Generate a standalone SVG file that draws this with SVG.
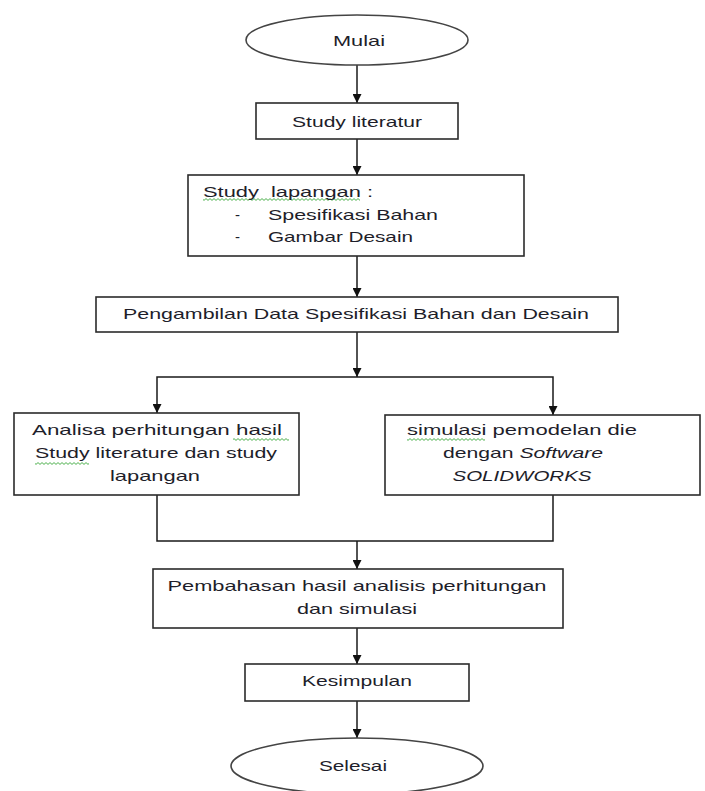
<svg xmlns="http://www.w3.org/2000/svg" width="705" height="791" viewBox="0 0 705 791">
<style>
  .box { fill: #ffffff; stroke: #2b2b2b; stroke-width: 1.6; }
  .term { fill: #ffffff; stroke: #444444; stroke-width: 1.6; }
  .t { font-family: "Liberation Sans", Arial, sans-serif; font-size: 15px; fill: #1e1e2a; }
  .c { text-anchor: middle; }
  .it { font-style: italic; }
  .line { fill: none; stroke: #1a1a1a; stroke-width: 1.5; }
  .wave { fill: url(#wave); }
</style>
<defs>
  <marker id="arrow" viewBox="0 0 10 10" refX="10" refY="5" markerWidth="9" markerHeight="9" markerUnits="userSpaceOnUse" orient="auto">
    <path d="M0,0 L10,5 L0,10 z" fill="#111111"/>
  </marker>
  <pattern id="wave" width="4" height="3" patternUnits="userSpaceOnUse">
    <path d="M0,2.4 L2,0.6 L4,2.4" fill="none" stroke="#3aa83a" stroke-width="0.9"/>
  </pattern>
</defs>

<g id="connectors">
  <path class="line" d="M357,65 V103" marker-end="url(#arrow)"/>
  <path class="line" d="M357,139 V175" marker-end="url(#arrow)"/>
  <path class="line" d="M357,256 V297" marker-end="url(#arrow)"/>
  <path class="line" d="M357,332 V377" marker-end="url(#arrow)"/>
  <path class="line" d="M357,377 H157 V413" marker-end="url(#arrow)"/>
  <path class="line" d="M357,377 H553 V415" marker-end="url(#arrow)"/>
  <path class="line" d="M157,495 V541 H553 V495"/>
  <path class="line" d="M357,541 V569" marker-end="url(#arrow)"/>
  <path class="line" d="M357,628 V664" marker-end="url(#arrow)"/>
  <path class="line" d="M357,701 V738" marker-end="url(#arrow)"/>
</g>

<g id="mulai">
  <ellipse class="term" cx="357" cy="40" rx="111" ry="25"/>
  <text class="t c" x="359" y="46" textLength="52" lengthAdjust="spacingAndGlyphs">Mulai</text>
</g>

<g id="study-literatur">
  <rect class="box" x="256" y="103" width="202" height="36"/>
  <text class="t c" x="357" y="127" textLength="130" lengthAdjust="spacingAndGlyphs">Study literatur</text>
</g>

<g id="study-lapangan">
  <rect class="box" x="188" y="175" width="336" height="81"/>
  <rect class="wave" x="203" y="198" width="157" height="3"/>
  <text class="t" x="203" y="197" textLength="170" lengthAdjust="spacingAndGlyphs">Study&#160; lapangan :</text>
  <text class="t" x="235" y="220">-</text>
  <text class="t" x="268" y="220" textLength="170" lengthAdjust="spacingAndGlyphs">Spesifikasi Bahan</text>
  <text class="t" x="235" y="242">-</text>
  <text class="t" x="268" y="242" textLength="145" lengthAdjust="spacingAndGlyphs">Gambar Desain</text>
</g>

<g id="pengambilan">
  <rect class="box" x="96" y="297" width="522" height="35"/>
  <text class="t c" x="356" y="319" textLength="466" lengthAdjust="spacingAndGlyphs">Pengambilan Data Spesifikasi Bahan dan Desain</text>
</g>

<g id="analisa">
  <rect class="box" x="14" y="413" width="285" height="82"/>
  <rect class="wave" x="233" y="438" width="56" height="3"/>
  <rect class="wave" x="35" y="462" width="54" height="3"/>
  <text class="t c" x="157" y="435" textLength="250" lengthAdjust="spacingAndGlyphs">Analisa perhitungan hasil</text>
  <text class="t c" x="156" y="458" textLength="242" lengthAdjust="spacingAndGlyphs">Study literature dan study</text>
  <text class="t c" x="155" y="481" textLength="90" lengthAdjust="spacingAndGlyphs">lapangan</text>
</g>

<g id="simulasi">
  <rect class="box" x="385" y="415" width="315" height="80"/>
  <rect class="wave" x="407" y="438" width="78" height="3"/>
  <text class="t c" x="522" y="435" textLength="230" lengthAdjust="spacingAndGlyphs">simulasi pemodelan die</text>
  <text class="t c" x="523" y="458" textLength="160" lengthAdjust="spacingAndGlyphs">dengan <tspan class="it">Software</tspan></text>
  <text class="t c it" x="522" y="481" textLength="139" lengthAdjust="spacingAndGlyphs">SOLIDWORKS</text>
</g>

<g id="pembahasan">
  <rect class="box" x="153" y="569" width="410" height="59"/>
  <text class="t c" x="357" y="591" textLength="379" lengthAdjust="spacingAndGlyphs">Pembahasan hasil analisis perhitungan</text>
  <text class="t c" x="357" y="614" textLength="120" lengthAdjust="spacingAndGlyphs">dan simulasi</text>
</g>

<g id="kesimpulan">
  <rect class="box" x="245" y="664" width="224" height="37"/>
  <text class="t c" x="357" y="686" textLength="110" lengthAdjust="spacingAndGlyphs">Kesimpulan</text>
</g>

<g id="selesai">
  <ellipse class="term" cx="357" cy="766" rx="126" ry="28"/>
  <text class="t c" x="353" y="771" textLength="68" lengthAdjust="spacingAndGlyphs">Selesai</text>
</g>
</svg>
